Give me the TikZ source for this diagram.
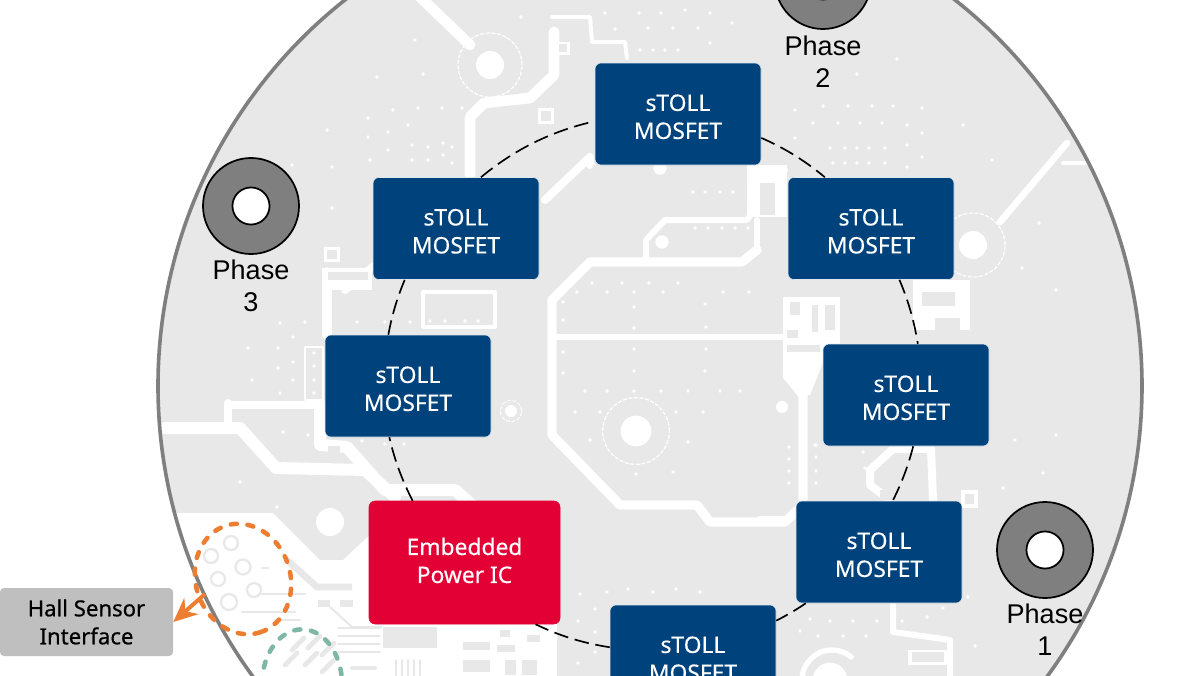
\documentclass[tikz,border=0pt]{standalone}
\usepackage{fontspec}
\setmainfont{Noto Sans}
\newfontfamily\phasefont{Liberation Sans}
\newfontfamily\hallfont[FakeBold=0.6]{Noto Sans}
\newfontfamily\boxfont[FakeBold=0.3]{Noto Sans}
\usetikzlibrary{shapes.geometric,arrows.meta}
\definecolor{pcb}{HTML}{E8E8E8}
\definecolor{navy}{HTML}{00437C}
\definecolor{redic}{HTML}{E30034}
\definecolor{rimg}{HTML}{7F7F7F}
\definecolor{hallg}{HTML}{BFBFBF}
\definecolor{orng}{HTML}{ED7D31}
\definecolor{teal}{HTML}{7FB7A6}
\tikzset{
  x=0.75pt,y=-0.75pt,
  box/.style={rectangle,rounded corners=4.5pt,inner sep=0pt,align=center,text=white,
    font=\fontsize{17.1}{21}\selectfont\boxfont,minimum width=124.5pt,minimum height=76.5pt,
    text height=37.6pt,fill=navy,draw=navy!12,line width=.4pt},
  redbox/.style={box,fill=redic,draw=redic,minimum width=143.25pt,minimum height=92.25pt,text height=30.9pt},
  hallbox/.style={rectangle,rounded corners=3pt,inner sep=0pt,align=center,text=black,fill=hallg,
    font=\fontsize{16.6}{21}\selectfont\hallfont,minimum width=129.75pt,minimum height=51pt},
  washer/.style={circle,fill=rimg,draw=black,line width=1.3pt,minimum size=72pt,inner sep=0pt},
  washerhole/.style={circle,fill=white,draw=black,line width=1.3pt,minimum size=27.8pt,inner sep=0pt},
  phase/.style={align=center,inner sep=0pt,text=black,font=\fontsize{20.3}{24}\selectfont\phasefont},
  ring/.style={draw=black,line width=1.25pt,dash pattern=on 11pt off 5pt,looseness=.88},
  trace/.style={draw=white,line width=6pt,line join=round,line cap=round},
  thintrace/.style={draw=white,line width=2.4pt,line join=round,line cap=round},
  viaring/.style={draw=white,line width=.9pt,dash pattern=on 3pt off 1.2pt},
  lgtrace/.style={draw=pcb,line width=2pt,line cap=round},
  pad/.style={draw=pcb,line width=1.7pt},
  zone/.style={line width=3.4pt,line cap=round,dash pattern=on 4.6pt off 8pt,inner sep=0pt,ellipse},
}
\newcommand{\pcbdots}[1]{\foreach \dx/\dy in {#1}{\fill[white] (\dx,\dy) circle (1.45pt);}}
\begin{document}
\begin{tikzpicture}
\clip (0,0) rectangle (1200,675);
\fill[white] (0,0) rectangle (1200,675);
\begin{scope}
  \clip (650,386) circle (369pt);
  \fill[pcb] (650,386) circle (369pt);
  % white lower-left zone
  \fill[white] (150,513)--(273,513)--(320,560)--(343,560)--(375,530)--(375,620)--(557,620)--(557,680)--(150,680)--cycle;
  % traces, top left
  \draw[trace,line width=8pt] (418,-5)--(470,45);
  \fill[white] (490,65) circle (10.5pt);
  \draw[viaring] (490,65) circle (24pt);
  \draw[trace,line width=8pt] (554,32)--(554,75)--(530,98)--(484,103)--(470,117)--(470,176);
  \draw[thintrace,line width=3pt] (552,17)--(590,17)--(592,42)--(625,42)--(627,58);
  \draw[trace] (545,200)--(590,157)--(590,165);
  \fill[white] (538,108) rectangle (554,124);
  \fill[pcb] (541,111) rectangle (551,121);
  \fill[white] (557,42) rectangle (570,55);
  \fill[pcb] (559,44) rectangle (567,52);
  % pad under top box
  \draw[trace,line width=4.5pt] (646,257)--(646,240)--(665,220)--(747,220)--(757,205)--(757,185)--(785,170);
  \draw[trace,line width=4.5pt] (757,248)--(757,220);
  \fill[white] (662,242) circle (5pt);
  \fill[white] (660,168) circle (5pt);
  \fill[white] (747,165) rectangle (787,217);
  \fill[pcb] (760,183) rectangle (775,215);
  % centre octagon
  \draw[trace,line width=7pt] (552,300)--(590,262)--(742,262)--(757,250);
  \draw[trace,line width=7pt] (552,300)--(552,435)--(620,505)--(697,505)--(710,522)--(785,522)--(803,505)--(803,395)--(787,375);
  \draw[trace,line width=5pt] (555,337)--(790,337);
  \draw[trace,line width=5pt] (790,300)--(790,375);
  \fill[white] (636,431) circle (11.5pt);
  \draw[viaring] (636,431) circle (25pt);
  \fill[white] (511,411) circle (4.5pt);
  \draw[viaring,line width=.7pt] (511,411) circle (8pt);
  \fill[white] (782,407) circle (4.5pt);
  % block right of octagon
  \fill[white] (783,297) rectangle (840,345);
  \fill[white] (783,345)--(830,345)--(810,395)--(800,395)--(783,378)--cycle;
  \fill[pcb] (790,302) rectangle (800,315);
  \fill[pcb] (812,305) rectangle (818,332);
  \fill[pcb] (825,305) rectangle (835,330);
  \fill[pcb] (787,330) rectangle (798,338);
  \fill[pcb] (787,345) rectangle (820,352);
  % right via and trace
  \draw[trace,line width=5pt] (1067,143)--(1000,222);
  \draw[trace,line width=3pt] (1063,163)--(1090,163);
  \fill[white] (973,245) circle (10.5pt);
  \draw[viaring] (973,245) circle (24pt);
  \fill[white] (913,280) rectangle (970,330);
  \fill[pcb] (922,292) rectangle (955,306);
  \fill[pcb] (935,318) rectangle (960,330);
  % around the right-lower boxes
  \draw[trace] (890,500)--(870,485)--(870,470)--(893,449)--(931,449)--(933,500);
  \fill[pcb] (880,490) rectangle (897,500);
  \fill[white] (961,490) rectangle (978,508);
  \fill[pcb] (965,494) rectangle (974,504);
  \draw[trace] (760,520)--(785,520);
  \draw[trace,line width=4.5pt] (893,605)--(893,632)--(950,640)--(950,680);
  \fill[white] (908,650) rectangle (948,665);
  \fill[pcb] (912,652) rectangle (944,662);
  \draw[trace,line width=4pt] (802,680) arc (180:310:30);
  \fill[white] (830,680) circle (13pt);
  % left side
  \draw[trace,line width=7pt] (327,272)--(327,335);
  \draw[trace] (345,290)--(375,265);
  \fill[white] (322,268) rectangle (372,290);
  \fill[pcb] (328,272) rectangle (368,280);
  \fill[white] (324,247) rectangle (340,262);
  \fill[pcb] (327,250) rectangle (337,259);
  \draw[thintrace] (423,292) rectangle (495,327);
  \draw[thintrace,line width=1.6pt] (305,347) rectangle (323,400);
  \draw[trace] (230,405)--(325,405);
  \draw[trace] (228,403)--(228,425);
  \draw[trace,line width=9pt] (165,428)--(240,428)--(276,468)--(365,470)--(395,497);
  \draw[trace,line width=9pt] (320,405)--(320,445)--(347,447)--(385,490)--(455,490)--(472,505);
  \fill[pcb] (328,446) rectangle (340,458);
  \fill[white] (330,522) circle (10.5pt);
  % dots
  \pcbdots{415/40,377/77,423/74,393/110,418/108,442/108,462/108,368/118,408/125,327/130,368/137,388/132,388/150,412/145,428/147,443/143,452/147,412/160,428/160,443/155,452/163,370/160,332/167,292/165,332/208}
  \pcbdots{280/323,305/322,248/348,278/348,278/368,293/337,293/362,293/380,252/380,280/393,283/432,308/435,240/482,277/507,314/353,314/366,314/380,314/393,430/321,445/321,465/321,478/321,357/322,385/322,410/322,362/441,385/444,404/444}
  \pcbdots{897/59,857/74,795/110,823/106,848/106,872/106,893/106,922/108,813/123,838/123,860/123,882/123,907/125,922/133,963/125,795/138,830/148,845/148,857/148,869/148,885/148,907/145,833/163,845/163,857/163,869/163,885/163,907/167,922/157,992/160,1039/223,1022/268,1056/290}
  \pcbdots{605/13,639/13,661/13,685/10,710/13,732/23,615/29,648/28,673/28,698/28,710/43,640/50,653/50,665/50,678/50,521/17,693/192,705/192,720/192,733/192,748/192,695/228,708/228,722/228,735/228,748/228}
  \pcbdots{592/283,622/283,649/283,678/283,577/292,607/292,634/292,663/292,723/292,749/292,563/302,634/307,705/304,563/320,634/328,706/327,563/352,634/349,706/349,563/373,634/371,705/371,585/391,607/391,634/391,661/391,688/391,720/391,740/391,575/412,600/412,676/412,703/412,590/440,688/442,636/474,673/472,789/447,789/459,789/471,789/483,816/445,816/457,816/471,816/483}
  \pcbdots{580/594,607/592,628/589,653/592,676/589,700/592,595/609,578/621,595/632,595/652,578/663,815/445,863/452,865/468,1015/440,1056/435,1043/473,1003/488,968/597,810/619,830/621,853/621,877/621,902/621,927/617,943/608,800/631,818/636,843/636,866/636,914/633,938/636,975/646}
  % lower-left light details
  \foreach \px/\py/\pr in {231/543/7,211/556/7,243/567/7.5,218/579/7,254/590/7,229/602/8}{
    \draw[pad] (\px,\py) circle (\pr*.75pt);}
  \draw[lgtrace] (262,568)--(268,568);
  \draw[lgtrace] (262,594)--(305,594);
  \draw[lgtrace] (242,612)--(295,612);
  \draw[lgtrace] (275,620)--(300,620);
  \draw[pcb,line width=5pt] (287,560)--(317,587)--(352,587);
  \fill[pcb] (318,600) rectangle (330,607);
  \fill[pcb] (340,600) rectangle (353,607);
  \draw[pcb,line width=1.5pt] (330,607)--(352,627)--(382,627);
  \fill[pcb] (383,627) rectangle (437,648);
  \foreach \sy in {628,636,644,652}{\draw[lgtrace,line width=1.5pt] (338,\sy)--(380,\sy);}
  \foreach \sx in {396,402,408,414,420}{\draw[lgtrace,line width=1.5pt] (\sx,660)--(\sx,680);}
  \fill[pcb] (463,642) rectangle (490,650);
  \fill[pcb] (463,660) rectangle (490,672);
  \fill[pcb] (500,630) rectangle (510,637);
  \fill[pcb] (527,635) rectangle (540,642);
  \fill[pcb] (497,645) rectangle (515,652);
  \fill[pcb] (505,660) rectangle (516,675);
  \fill[pcb] (522,660) rectangle (537,675);
  \foreach \gx/\gy in {292/650,308/648,322/655,285/665,305/665,322/672}{\draw[pcb,line width=3.5pt,line cap=round] (\gx,\gy)--++(12,-12);}
  \draw[lgtrace,line width=3pt] (352,668)--(375,668);
\end{scope}
% rim
\draw[rimg,line width=2.7pt] (650,386) circle (369pt);

% zones
\node[zone,draw=orng,rotate=-72,minimum width=84pt,minimum height=71pt] (hallzone) at (243,579) {};
\node[zone,draw=teal,rotate=-90,minimum width=82pt,minimum height=60pt] (gatezone) at (302,684) {};

% boxes
\node[box] (top) at (678,114) {sTOLL\\MOSFET};
\node[box] (ul) at (456,228.5) {sTOLL\\MOSFET};
\node[box] (ur) at (871,228.5) {sTOLL\\MOSFET};
\node[box] (lf) at (408,386) {sTOLL\\MOSFET};
\node[box] (rt) at (906,395) {sTOLL\\MOSFET};
\node[box] (lr) at (879,552) {sTOLL\\MOSFET};
\node[box] (bt) at (693,656) {sTOLL\\MOSFET};
\node[redbox] (ic) at (464.5,562.5) {Embedded\\Power IC};
\node[hallbox] (hall) at (86.5,622) {Hall Sensor\\Interface};

% dashed ring from box to box
\draw[ring] (top.-16.3) to[bend left=8.1] (ur.132.7);
\draw[ring] (ur.-61.1) to[bend left=6.8] (rt.77.8);
\draw[ring] (rt.-82.7) to[bend left=6.2] (lr.75.1);
\draw[ring] (lr.-145.4) to[bend left=3.6] (bt.23.1);
\draw[ring] (bt.174.3) to[bend left=8.5] (ic.-41.1);
\draw[ring] (ic.130.8) to[bend left=7.2] (lf.-110);
\draw[ring] (lf.111.1) to[bend left=6.1] (ul.-135.1);
\draw[ring] (ul.64.1) to[bend left=13.6] (top.-175.2);

% arrow
\coordinate (hallstart) at (205,594);
\draw[orng,line width=3pt,-{Stealth[length=18pt,width=16pt]}] (hallstart) -- (hall.east);

% phases
\node[washer] (w3) at (251,206) {};
\node[washerhole] (h3) at (w3) {};
\node[phase] (p3) at (251,286) {Phase\\3};
\node[washer] (w2) at (823,-19) {};
\node[washerhole] (h2) at (w2) {};
\node[phase] (p2) at (823,62) {Phase\\2};
\node[washer] (w1) at (1045,550) {};
\node[washerhole] (h1) at (w1) {};
\node[phase] (p1) at (1045,630) {Phase\\1};
\end{tikzpicture}
\end{document}
